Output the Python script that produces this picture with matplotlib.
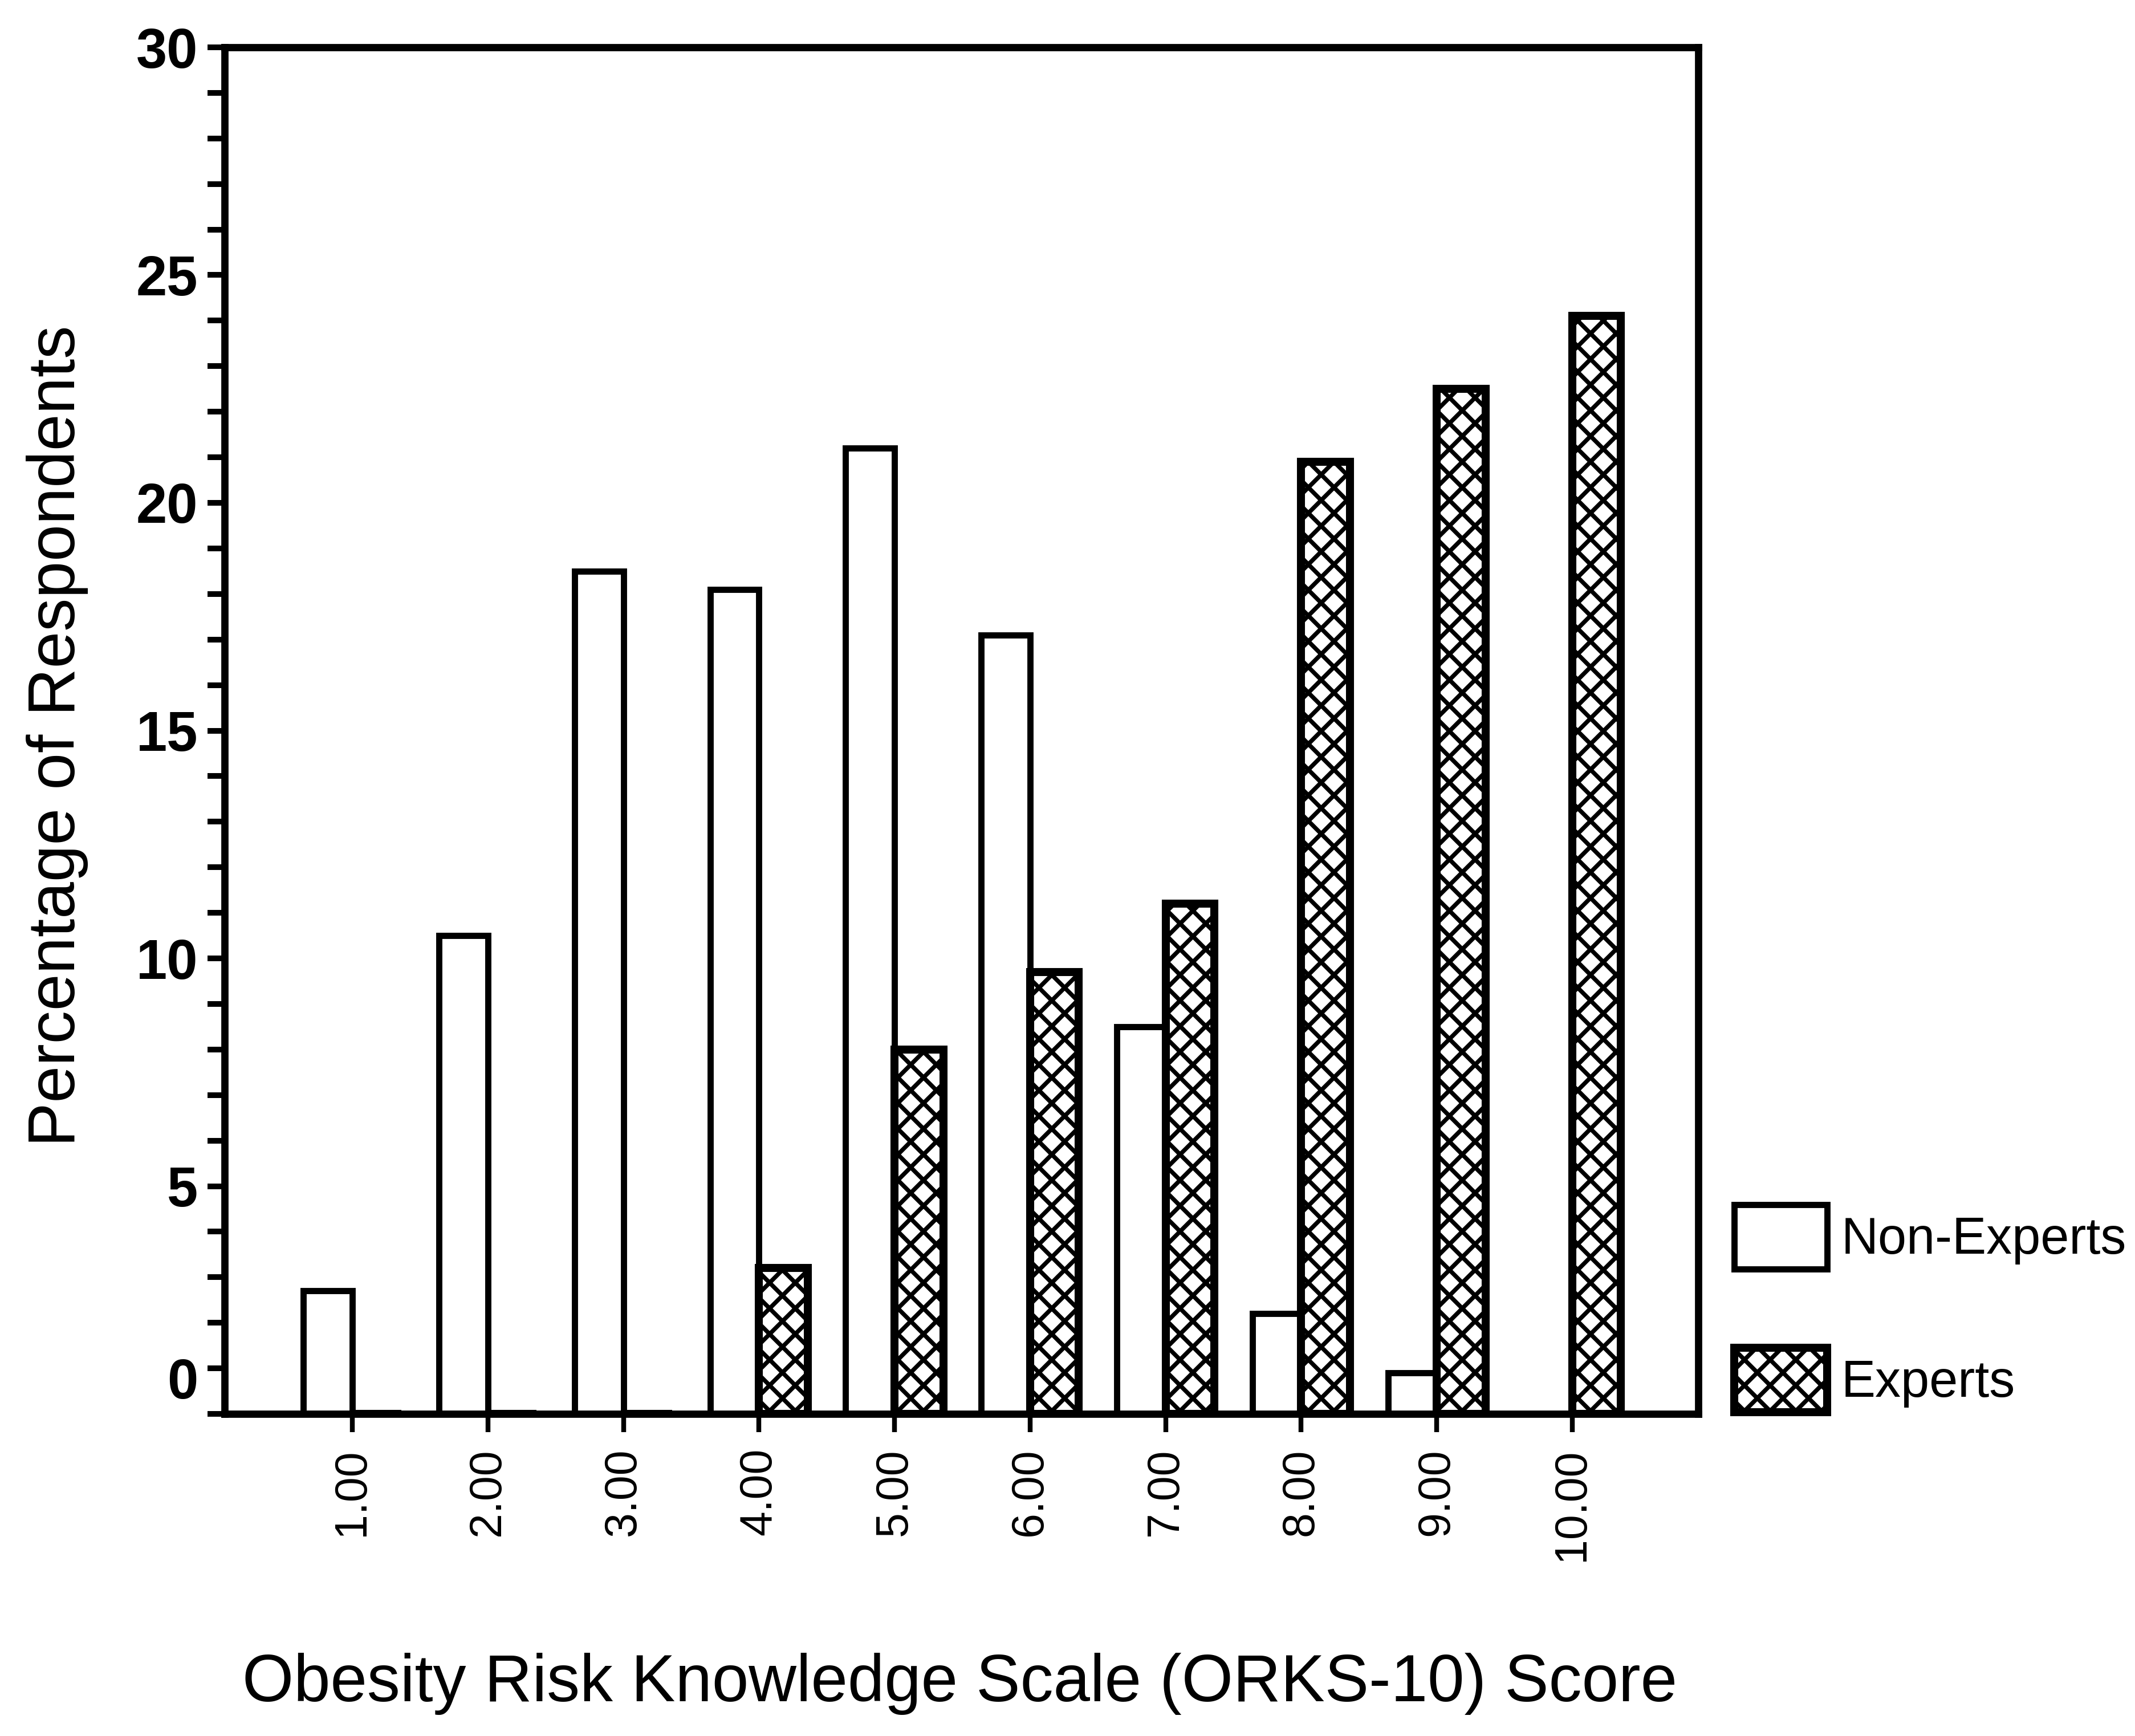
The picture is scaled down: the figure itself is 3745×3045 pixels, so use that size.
import matplotlib
matplotlib.use("Agg")
import matplotlib.pyplot as plt
import matplotlib.transforms as mtransforms
from matplotlib.ticker import MultipleLocator
import numpy as np

# ---- data ----
scores = [1, 2, 3, 4, 5, 6, 7, 8, 9, 10]
score_labels = ["1.00", "2.00", "3.00", "4.00", "5.00",
                "6.00", "7.00", "8.00", "9.00", "10.00"]
non_experts = [2.7, 10.5, 18.5, 18.1, 21.2, 17.1, 8.5, 2.2, 0.9, 0.0]
experts = [0.0, 0.0, 0.0, 3.2, 8.0, 9.7, 11.2, 20.9, 22.5, 24.1]
series_names = ["Non-Experts", "Experts"]
y_label = "Percentage of Respondents"
x_label = "Obesity Risk Knowledge Scale (ORKS-10) Score"

# ---- style ----
DPI = 135
W, H = 3745, 3045
plt.rcParams["font.family"] = ["Liberation Sans", "DejaVu Sans"]
plt.rcParams["hatch.linewidth"] = 4.0
plt.rcParams["hatch.color"] = "black"

fig = plt.figure(figsize=(W / DPI, H / DPI), dpi=DPI)
fig.patch.set_facecolor("white")
left, right, bottom, top = 394 / W, 2979 / W, 1 - 2480 / H, 1 - 83 / H
ax = fig.add_axes([left, bottom, right - left, top - bottom])

x = np.array(scores, dtype=float)
w = 0.36
ax.bar(x - w / 2, non_experts, w, facecolor="white", edgecolor="black",
       linewidth=5.8, label=series_names[0], zorder=2)
ax.bar(x + w / 2, experts, w, facecolor="white", edgecolor="black",
       linewidth=7.5, hatch="x", label=series_names[1], zorder=2)

ax.set_xlim(0.058, 10.93)
ax.set_ylim(0, 30)

ax.set_xticks(x)
ax.set_xticklabels(score_labels, rotation=90, fontsize=42)
ax.set_yticks(np.arange(0, 31, 5))
ax.yaxis.set_minor_locator(MultipleLocator(1))
ax.tick_params(axis="y", which="both", direction="out", length=16, width=5.3,
               labelsize=52, pad=9)
ax.tick_params(axis="x", which="both", direction="out", length=17, width=4.5,
               pad=15)
for lab in ax.get_yticklabels():
    lab.set_fontweight("bold")

for sp in ax.spines.values():
    sp.set_linewidth(6.8)
    sp.set_color("black")

# the "0" label sits slightly above the baseline in the original
t0 = ax.yaxis.get_major_ticks()[0]
t0.label1.set_transform(t0.label1.get_transform() +
                        mtransforms.ScaledTranslation(0, 63 / DPI, fig.dpi_scale_trans))

ax.set_ylabel(y_label, fontsize=62)
ax.yaxis.set_label_coords(-0.1137, 0.496)
ax.yaxis.label.set_va("center")
ax.set_xlabel(x_label, fontsize=61.8)
ax.xaxis.set_label_coords(0.499, -0.1977)
ax.xaxis.label.set_va("center")

ax.legend(loc="upper left", bbox_to_anchor=(3042 / W, 1 - 2113 / H),
          bbox_transform=fig.transFigure, frameon=False, fontsize=48,
          handlelength=1.81, handleheight=1.55, handletextpad=0.27,
          labelspacing=1.54, borderpad=0, borderaxespad=0)

fig.savefig("out.png", dpi=DPI, facecolor="white")
